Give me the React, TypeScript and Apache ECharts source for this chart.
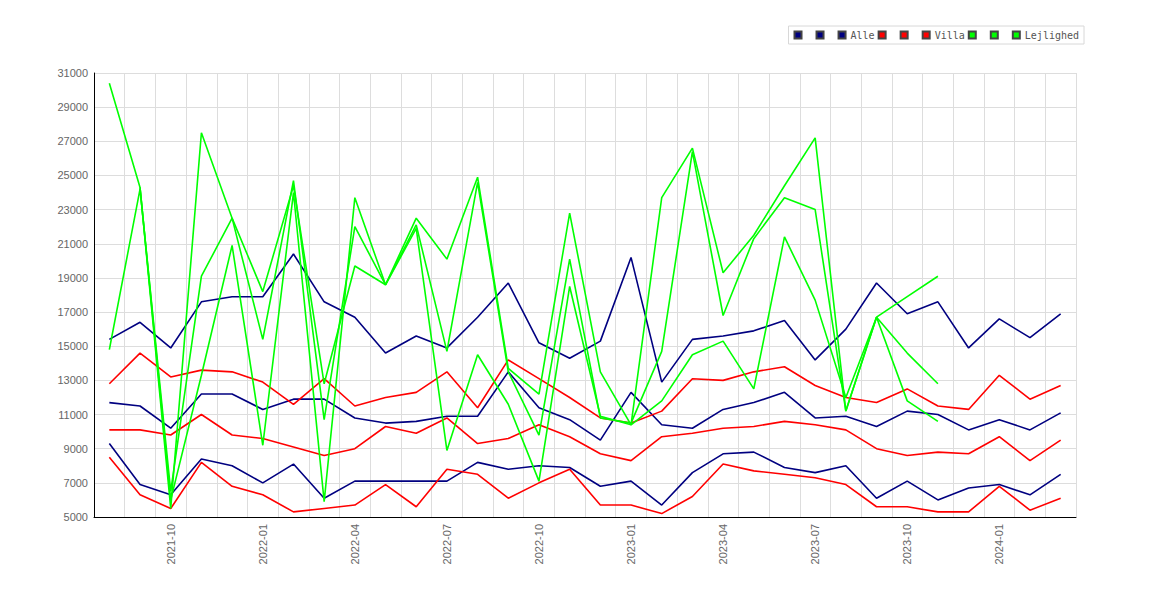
import { useEffect, useRef } from 'react';
import * as echarts from 'echarts';

const months = [
  '2021-08', '2021-09', '2021-10', '2021-11', '2021-12',
  '2022-01', '2022-02', '2022-03', '2022-04', '2022-05', '2022-06',
  '2022-07', '2022-08', '2022-09', '2022-10', '2022-11', '2022-12',
  '2023-01', '2023-02', '2023-03', '2023-04', '2023-05', '2023-06',
  '2023-07', '2023-08', '2023-09', '2023-10', '2023-11', '2023-12',
  '2024-01', '2024-02', '2024-03',
];

const alleHigh = [15400, 16400, 14900, 17600, 17900, 17900, 20400, 17600, 16700, 14600, 15600, 14900, 16700, 18700, 15200, 14300, 15300, 20200, 12900, 15400, 15600, 15900, 16500, 14200, 16000, 18700, 16900, 17600, 14900, 16600, 15500, 16900];
const alleMid = [11700, 11500, 10200, 12200, 12200, 11300, 11900, 11900, 10800, 10500, 10600, 10900, 10900, 13500, 11400, 10700, 9500, 12300, 10400, 10200, 11300, 11700, 12300, 10800, 10900, 10300, 11200, 11000, 10100, 10700, 10100, 11100];
const alleLow = [9300, 6900, 6300, 8400, 8000, 7000, 8100, 6100, 7100, 7100, 7100, 7100, 8200, 7800, 8000, 7900, 6800, 7100, 5700, 7600, 8700, 8800, 7900, 7600, 8000, 6100, 7100, 6000, 6700, 6900, 6300, 7500];

const villaHigh = [12800, 14600, 13200, 13600, 13500, 12900, 11600, 13100, 11500, 12000, 12300, 13500, 11400, 14200, 13100, 12000, 10800, 10500, 11200, 13100, 13000, 13500, 13800, 12700, 12000, 11700, 12500, 11500, 11300, 13300, 11900, 12700];
const villaMid = [10100, 10100, 9800, 11000, 9800, 9600, 9100, 8600, 9000, 10300, 9900, 10800, 9300, 9600, 10400, 9700, 8700, 8300, 9700, 9900, 10200, 10300, 10600, 10400, 10100, 9000, 8600, 8800, 8700, 9700, 8300, 9500];
const villaLow = [8500, 6300, 5500, 8200, 6800, 6300, 5300, 5500, 5700, 6900, 5600, 7800, 7500, 6100, 7000, 7800, 5700, 5700, 5200, 6200, 8100, 7700, 7500, 7300, 6900, 5600, 5600, 5300, 5300, 6800, 5400, 6100];

const lejA = [30400, 24300, 5500, 27500, 22500, 18200, 24400, 12800, 19700, 18600, 22500, 20100, 24900, 13700, 12200, 22800, 13500, 10400, 23700, 26600, 19300, 21500, 24400, 27200, 11200, 16700, 17900, 19100, null, null, null, null];
const lejB = [14800, 24200, 6500, 19100, 22500, 15400, 24700, 10700, 22000, 18600, 22100, 14700, 24600, 13500, 9800, 20100, 10800, 10500, 14700, 26400, 16800, 21300, 23700, 23000, 11200, 16700, 14600, 12800, null, null, null, null];
const lejC = [null, 24300, 6000, 13300, 20900, 9200, 24000, 5900, 23700, 18600, 21900, 8900, 14500, 11600, 7100, 18500, 10900, 10400, 11800, 14500, 15300, 12500, 21400, 17700, 12000, 16700, 11800, 10600, null, null, null, null];

const NAVY = '#000080';
const RED = '#ff0000';
const LIME = '#00ff00';

// named groups; only the third line of each group shows its name in the legend
const groups = [
  { label: 'Alle', color: NAVY, lines: [alleHigh, alleMid, alleLow] },
  { label: 'Villa', color: RED, lines: [villaHigh, villaMid, villaLow] },
  { label: 'Lejlighed', color: LIME, lines: [lejA, lejB, lejC] },
];

const App = () => {
  const chartRef = useRef<HTMLDivElement>(null);

  useEffect(() => {
    if (!chartRef.current) return;
    const chart = echarts.init(chartRef.current, null, { renderer: 'svg' });

    const series: any[] = [];
    groups.forEach((g) => {
      g.lines.forEach((data, i) => {
        series.push({
          name: i === 2 ? g.label : `_${g.label}${i}`,
          type: 'line',
          data,
          color: g.color,
          showSymbol: false,
          lineStyle: { width: 1.6, color: g.color },
          itemStyle: { color: g.color, borderColor: '#444', borderWidth: 1 },
        });
      });
    });

    chart.setOption({
      animation: false,
      textStyle: { fontFamily: 'Liberation Sans' },
      legend: {
        right: 86,
        top: 26,
        padding: [4, 5],
        borderColor: '#d8d8d8',
        borderWidth: 1,
        icon: 'rect',
        itemWidth: 7,
        itemHeight: 7,
        itemGap: 3,
        textStyle: { fontFamily: 'DejaVu Sans Mono', fontSize: 10, color: '#555' },
        formatter: (name: string) => (name.startsWith('_') ? ' ' : name),
        data: series.map((s) => s.name),
      },
      grid: { left: 94, right: 94, top: 73, bottom: 83, containLabel: false },
      xAxis: {
        type: 'category',
        data: months,
        boundaryGap: true,
        axisLine: { lineStyle: { color: '#000', width: 1 } },
        axisTick: { show: false },
        axisLabel: {
          interval: (index: number) => index % 3 === 2,
          rotate: 90,
          fontSize: 11,
          color: '#666',
          margin: 7,
        },
        splitLine: { show: true, interval: 0, lineStyle: { color: '#dddddd', width: 1 } },
      },
      yAxis: {
        type: 'value',
        min: 5000,
        max: 31000,
        interval: 2000,
        axisLine: { show: true, lineStyle: { color: '#000', width: 1 } },
        axisTick: { show: false },
        axisLabel: { fontSize: 11, color: '#666', margin: 6, formatter: (v: number) => String(v) },
        splitLine: { show: true, lineStyle: { color: '#dddddd', width: 1 } },
      },
      series,
    });

    return () => {
      chart.dispose();
    };
  }, []);

  return (
    <div
      ref={chartRef}
      style={{ position: 'absolute', left: 0, top: 0, width: '1170px', height: '600px', background: '#fff' }}
    />
  );
};

export default App;
